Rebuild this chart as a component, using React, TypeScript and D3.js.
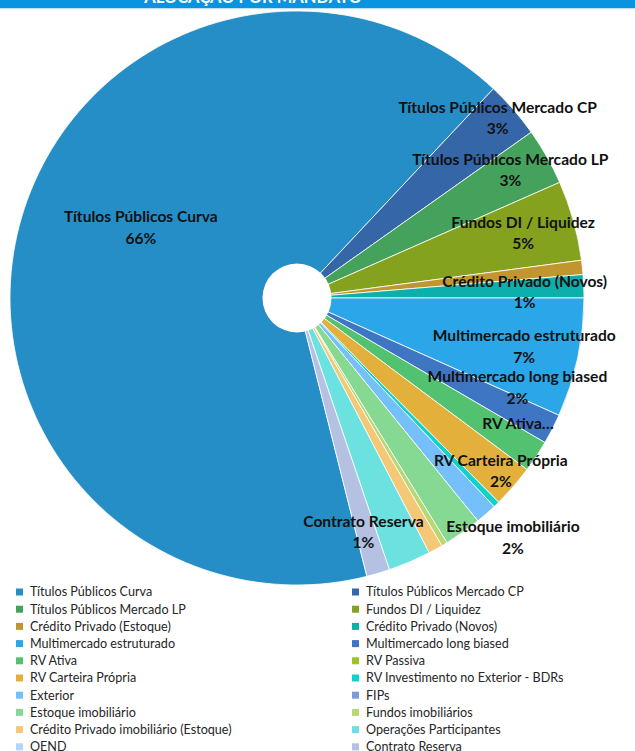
import React from "react";
import * as d3 from "d3";

const categories = [
  "Títulos Públicos Curva",
  "Títulos Públicos Mercado CP",
  "Títulos Públicos Mercado LP",
  "Fundos DI / Liquidez",
  "Crédito Privado (Estoque)",
  "Crédito Privado (Novos)",
  "Multimercado estruturado",
  "Multimercado long biased",
  "RV Ativa",
  "RV Passiva",
  "RV Carteira Própria",
  "RV Investimento no Exterior - BDRs",
  "Exterior",
  "FIPs",
  "Estoque imobiliário",
  "Fundos imobiliários",
  "Crédito Privado imobiliário (Estoque)",
  "Operações Participantes",
  "OEND",
  "Contrato Reserva",
];

const values = [65.9, 3.2, 3.2, 4.5, 0.8, 1.3, 6.7, 1.7, 1.8, 0, 2.4, 0.35, 1.2, 0, 2.1, 0.33, 0.8, 2.4, 0, 1.3];

const colors = [
  "#258EC7", "#3566A8", "#45A25C", "#84A21E", "#C1962E",
  "#0CAFAB", "#2BA6E8", "#3F76C4", "#52C270", "#9CC321",
  "#E4B03C", "#10D1CC", "#75C0FA", "#7B9CD8", "#86D993",
  "#B7D873", "#F5C877", "#6BE2DF", "#B2D7F8", "#B5C1E3",
];

const title = "ALOCAÇÃO POR MANDATO";

// label layout: category index -> radius fraction, angle in degrees (clockwise from 12 o'clock), optional truncated text
const labelLayout: { idx: number; rf: number; ang: number; text?: string }[] = [
  { idx: 0, rf: 0.6, ang: 295 },
  { idx: 1, rf: 0.944, ang: 47.8 },
  { idx: 2, rf: 0.871, ang: 58.6 },
  { idx: 3, rf: 0.822, ang: 73.5 },
  { idx: 5, rf: 0.794, ang: 88 },
  { idx: 6, rf: 0.808, ang: 101.5 },
  { idx: 7, rf: 0.826, ang: 111.6 },
  { idx: 8, rf: 0.885, ang: 119.5, text: "RV Ativa…" },
  { idx: 10, rf: 0.927, ang: 130 },
  { idx: 14, rf: 1.118, ang: 137.7 },
  { idx: 19, rf: 0.84, ang: 164 },
];

export default function App() {
  const W = 635;
  const H = 751;
  const cx = 297;
  const cy = 298;
  const R = 287;
  const hole = 34.5;
  const startDeg = 165.9;
  const toRad = (d: number) => (d * Math.PI) / 180;

  const pie = d3
    .pie<number>()
    .sort(null)
    .value((d) => d)
    .startAngle(toRad(startDeg))
    .endAngle(toRad(startDeg) + 2 * Math.PI);
  const arcs = pie(values);
  const arc = d3.arc<d3.PieArcDatum<number>>().innerRadius(0).outerRadius(R);
  const total = d3.sum(values);

  const font = "Lato, 'Open Sans', sans-serif";
  const legendY0 = 592;
  const legendStep = 17.2;
  const colX = [16, 352];
  const labelSize = 15.6;

  return (
    <svg
      width={W}
      height={H}
      style={{ position: "absolute", left: 0, top: 0, display: "block", background: "#fff" }}
    >
      <rect x={0} y={0} width={W} height={8} fill="#0A93DF" />
      <rect x={0} y={8} width={W} height={1.2} fill="#BFE0F4" />
      <text
        x={253}
        y={3}
        textAnchor="middle"
        fontFamily={font}
        fontWeight="bold"
        fontSize={16.5}
        fill="#fff"
      >
        {title}
      </text>

      <g transform={`translate(${cx},${cy})`}>
        {arcs.map((a, i) =>
          a.value > 0 ? (
            <path key={i} d={arc(a) || ""} fill={colors[i]} stroke="#fff" strokeWidth={0.8} />
          ) : null
        )}
        <circle r={hole} fill="#fff" />
        {labelLayout.map((l) => {
          const th = toRad(l.ang);
          const x = Math.sin(th) * R * l.rf;
          const y = -Math.cos(th) * R * l.rf;
          const pct = Math.round((values[l.idx] / total) * 100) + "%";
          if (l.text) {
            return (
              <text
                key={l.idx}
                x={x}
                y={y}
                dy="0.35em"
                textAnchor="middle"
                fontFamily={font}
                fontWeight="bold"
                fontSize={labelSize}
                fill="#111"
              >
                {l.text}
              </text>
            );
          }
          return (
            <text
              key={l.idx}
              x={x}
              y={y}
              textAnchor="middle"
              fontFamily={font}
              fontWeight="bold"
              fontSize={labelSize}
              fill="#111"
            >
              <tspan x={x} dy="-0.2em">{categories[l.idx]}</tspan>
              <tspan x={x} dy="1.38em">{pct}</tspan>
            </text>
          );
        })}
      </g>

      <g>
        {categories.map((c, i) => {
          const col = i % 2;
          const row = Math.floor(i / 2);
          const y = legendY0 + row * legendStep;
          return (
            <g key={c}>
              <rect x={colX[col]} y={y - 3.5} width={7} height={7} fill={colors[i]} />
              <text
                x={colX[col] + 14}
                y={y}
                dy="0.35em"
                fontFamily={font}
                fontSize={12.6}
                fill="#262626"
              >
                {c}
              </text>
            </g>
          );
        })}
      </g>
    </svg>
  );
}
